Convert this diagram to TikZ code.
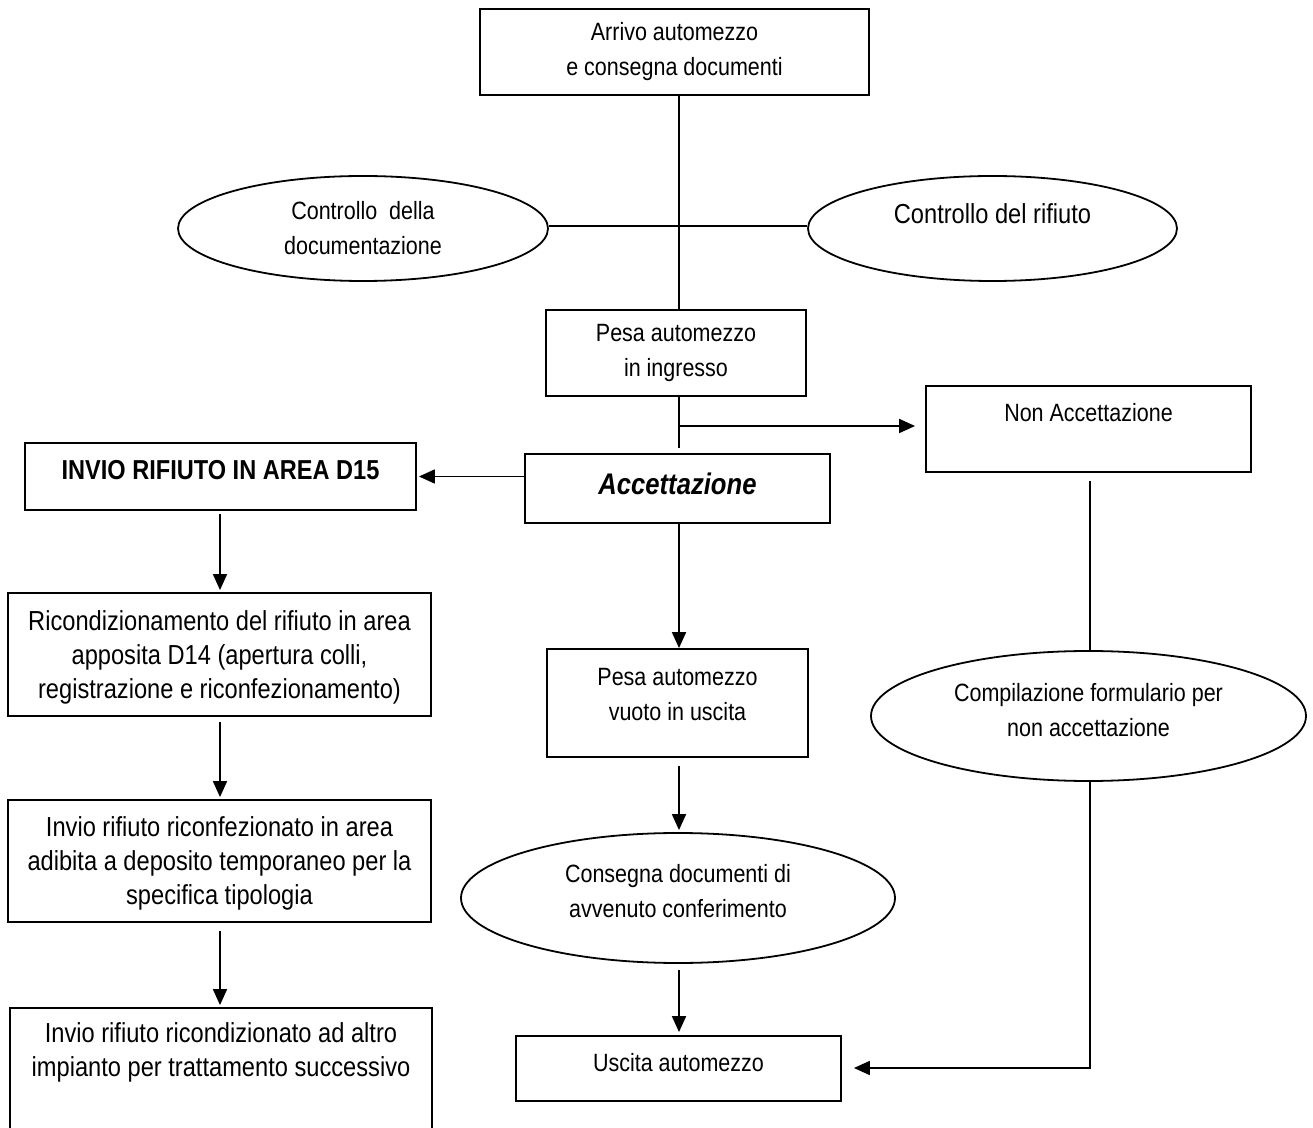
\documentclass[tikz,border=0pt]{standalone}
\usepackage{fontspec}
\setmainfont{Liberation Sans}[FakeStretch=0.86]
\usetikzlibrary{shapes.geometric,arrows.meta}
\tikzset{
  txt/.style={font=\fontsize{12.5}{17.5}\selectfont, align=center, inner sep=0pt, line width=0.9pt},
  bigtxt/.style={font=\fontsize{13.75}{17}\selectfont},
  box/.style={txt, draw, rectangle},
  oval/.style={txt, draw, ellipse},
  link/.style={line width=0.9pt},
  arr/.style={line width=0.9pt, -{Triangle[length=8pt,width=7pt]}}
}
\begin{document}
\begin{tikzpicture}[x=0.5pt,y=-0.5pt]
\useasboundingbox (0,0) rectangle (1313,1128);
\coordinate (spx) at (679,0);
\coordinate (rpx) at (1090,0);
\coordinate (lpx) at (220,0);

\node[box, minimum width=194.5pt, minimum height=43pt] (arrivo) at (674.5,52) {Arrivo automezzo\\e consegna documenti};
\node[oval, minimum width=185pt, minimum height=52.5pt] (docctl) at (363,228.5) {Controllo\ \ della\\documentazione};
\node[oval, bigtxt, minimum width=184.5pt, minimum height=52.5pt, text depth=15pt] (rifctl) at (992.5,228.5) {Controllo del rifiuto};
\node[box, minimum width=130pt, minimum height=43pt] (pesain) at (676,353) {Pesa automezzo\\in ingresso};
\node[box, minimum width=162.5pt, minimum height=43pt, text depth=17pt] (nonacc) at (1088.5,429) {Non Accettazione};
\node[box, minimum width=152.5pt, minimum height=34.5pt, text depth=5pt, font=\fontsize{14.9}{17.5}\selectfont\bfseries\itshape] (accett) at (677.5,488.5) {Accettazione};
\node[box, minimum width=195.5pt, minimum height=33.5pt, text depth=6.5pt, font=\fontsize{13.7}{17.5}\selectfont\bfseries] (invio) at (220.5,476.5) {INVIO RIFIUTO IN AREA D15};
\node[box, bigtxt, minimum width=211.5pt, minimum height=61.5pt, text depth=0pt] (ricond) at (219.5,654.5) {Ricondizionamento del rifiuto in area\\apposita D14 (apertura colli,\\registrazione e riconfezionamento)};
\node[box, bigtxt, minimum width=211.5pt, minimum height=61pt, text depth=0pt] (riconf) at (219.5,861) {Invio rifiuto riconfezionato in area\\adibita a deposito temporaneo per la\\specifica tipologia};
\node[box, bigtxt, minimum width=211pt, minimum height=66pt, text depth=24pt] (altro) at (221,1074) {Invio rifiuto ricondizionato ad altro\\impianto per trattamento successivo};
\node[box, minimum width=130.5pt, minimum height=54pt, text depth=9pt] (pesaout) at (677.5,703) {Pesa automezzo\\vuoto in uscita};
\node[oval, minimum width=217pt, minimum height=65pt, text depth=7pt] (consegna) at (678,898) {Consegna documenti di\\avvenuto conferimento};
\node[box, minimum width=162.5pt, minimum height=32.5pt, text depth=6pt] (uscita) at (678.5,1068.5) {Uscita automezzo};
\node[oval, minimum width=217.5pt, minimum height=65pt, text depth=6pt] (compil) at (1088.5,716) {Compilazione formulario per\\non accettazione};

\coordinate (branch) at (679,426);
\coordinate (corner) at (1090,1068);
\coordinate (cross) at (679,226);

% connectors
\draw[link] (arrivo.south -| spx) -- (pesain.north -| spx);
\draw[link] (docctl.east |- cross) -- (rifctl.west |- cross);
\draw[link, shorten >=2.5pt] (pesain.south -| spx) -- (accett.north -| spx);
\draw[arr, shorten >=5pt] (branch) -- (branch -| nonacc.west);
\draw[arr, shorten >=1pt] (accett.west |- invio.east) -- (invio.east);
\draw[arr, shorten <=1.5pt, shorten >=1pt] (invio.south -| lpx) -- (ricond.north -| lpx);
\draw[arr, shorten <=2.5pt, shorten >=1pt] (ricond.south -| lpx) -- (riconf.north -| lpx);
\draw[arr, shorten <=4pt, shorten >=1pt] (riconf.south -| lpx) -- (altro.north -| lpx);
\draw[arr] (accett.south -| spx) -- (pesaout.north -| spx);
\draw[arr, shorten <=4pt, shorten >=1pt] (pesaout.south -| spx) -- (consegna.north -| spx);
\draw[arr, shorten <=3pt, shorten >=1.5pt] (consegna.south -| spx) -- (uscita.north -| spx);
\draw[link, shorten <=4pt] (nonacc.south -| rpx) -- (compil.north -| rpx);
\draw[arr, shorten >=6pt] (compil.south -| rpx) -- (corner) -- (corner -| uscita.east);
\end{tikzpicture}
\end{document}
